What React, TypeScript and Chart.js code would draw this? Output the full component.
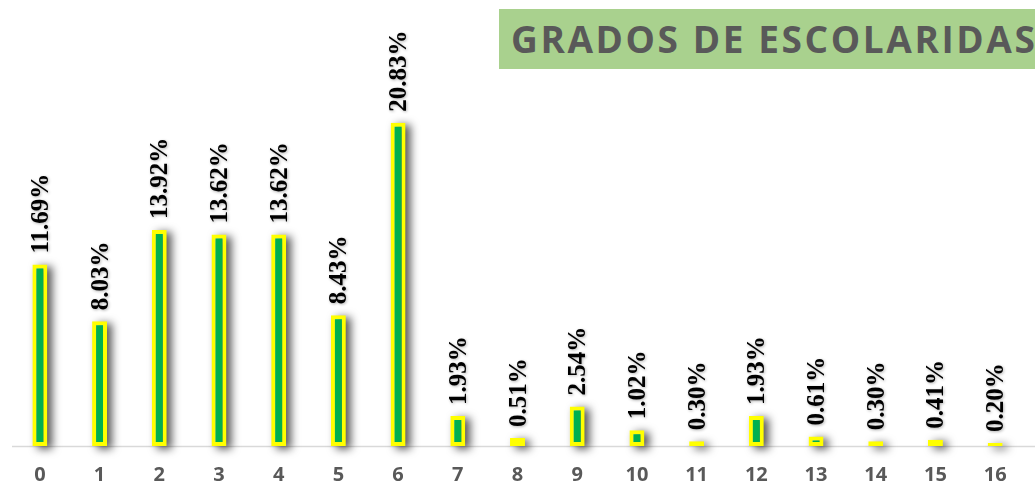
import React, { useEffect, useRef } from "react";
import { Chart, registerables } from "chart.js";

Chart.register(...registerables);

const categories = ["0", "1", "2", "3", "4", "5", "6", "7", "8", "9", "10", "11", "12", "13", "14", "15", "16"];
const percentages = [11.69, 8.03, 13.92, 13.62, 13.62, 8.43, 20.83, 1.93, 0.51, 2.54, 1.02, 0.3, 1.93, 0.61, 0.3, 0.41, 0.2];
const titleText = "GRADOS DE ESCOLARIDAS";

// Draws only the soft drop shadow of each bar (the shape itself is drawn off-canvas)
const shadowPlugin = {
  id: "barShadow",
  beforeDatasetsDraw(chart: any) {
    const ctx = chart.ctx;
    const meta = chart.getDatasetMeta(0);
    const far = 3000;
    ctx.save();
    ctx.shadowColor = "rgba(0,0,0,0.65)";
    ctx.shadowBlur = 8;
    ctx.shadowOffsetX = far + 5;
    ctx.shadowOffsetY = 3;
    ctx.fillStyle = "#000";
    meta.data.forEach((bar: any) => {
      const w = bar.width;
      const top = Math.min(bar.y, bar.base);
      const h = Math.abs(bar.base - bar.y);
      ctx.fillRect(bar.x - w / 2 - far, top - 1, w, h + 1);
    });
    ctx.restore();
  },
};

const axisLinePlugin = {
  id: "axisLine",
  beforeDatasetsDraw(chart: any) {
    const ctx = chart.ctx;
    const y = chart.scales.y.getPixelForValue(0);
    ctx.save();
    ctx.strokeStyle = "#d9d9d9";
    ctx.lineWidth = 1.5;
    ctx.beginPath();
    ctx.moveTo(12, y + 0.5);
    ctx.lineTo(chart.width, y + 0.5);
    ctx.stroke();
    ctx.restore();
  },
};

const labelPlugin = {
  id: "rotLabels",
  afterDatasetsDraw(chart: any) {
    const ctx = chart.ctx;
    const meta = chart.getDatasetMeta(0);
    ctx.save();
    ctx.font = "bold 25px 'Liberation Serif', 'Times New Roman', serif";
    ctx.fillStyle = "#000000";
    ctx.textAlign = "left";
    ctx.textBaseline = "alphabetic";
    ctx.shadowColor = "rgba(0,0,0,0.3)";
    ctx.shadowBlur = 3;
    ctx.shadowOffsetX = 1;
    ctx.shadowOffsetY = 1;
    meta.data.forEach((bar: any, i: number) => {
      const txt = percentages[i].toFixed(2) + "%";
      ctx.save();
      ctx.translate(bar.x + 8, bar.y - 11);
      ctx.rotate(-Math.PI / 2);
      ctx.fillText(txt, 0, 0);
      ctx.restore();
    });
    ctx.restore();
  },
};

export default function App() {
  const ref = useRef<HTMLCanvasElement>(null);
  useEffect(() => {
    if (!ref.current) return;
    const chart = new Chart(ref.current, {
      type: "bar",
      data: {
        labels: categories,
        datasets: [
          {
            data: percentages,
            backgroundColor: "#00b050",
            borderColor: "#ffff00",
            borderWidth: 4,
            borderSkipped: false,
            categoryPercentage: 1,
            barPercentage: 0.25,
          },
        ],
      },
      options: {
        responsive: false,
        animation: false,
        layout: { padding: { left: 10, right: 10, top: 58, bottom: 0 } },
        plugins: { legend: { display: false }, tooltip: { enabled: false }, title: { display: false } },
        scales: {
          x: {
            grid: { display: false, drawTicks: false },
            border: { display: false },
            ticks: {
              color: "#595959",
              font: { family: "'Open Sans', sans-serif", size: 20, weight: "bold" },
              padding: 17,
              maxRotation: 0,
            },
            afterFit: (s: any) => {
              s.height = 41;
            },
          },
          y: { display: false, min: 0, max: 25 },
        },
      },
      plugins: [axisLinePlugin, shadowPlugin, labelPlugin],
    });
    return () => chart.destroy();
  }, []);
  return (
    <div style={{ position: "fixed", left: 0, top: 0, width: 1035, height: 487, background: "#ffffff", overflow: "hidden" }}>
      <canvas ref={ref} width={1035} height={487} style={{ display: "block" }} />
      <div
        style={{
          position: "absolute",
          left: 499,
          top: 9,
          width: 536,
          height: 60,
          background: "#a9d18e",
          color: "#595959",
          fontFamily: "'Open Sans', sans-serif",
          fontWeight: "bold",
          fontSize: 37,
          letterSpacing: 2.6,
          lineHeight: "60px",
          paddingLeft: 12,
          boxSizing: "border-box",
          whiteSpace: "nowrap",
          overflow: "hidden",
        }}
      >
        {titleText}
      </div>
    </div>
  );
}
